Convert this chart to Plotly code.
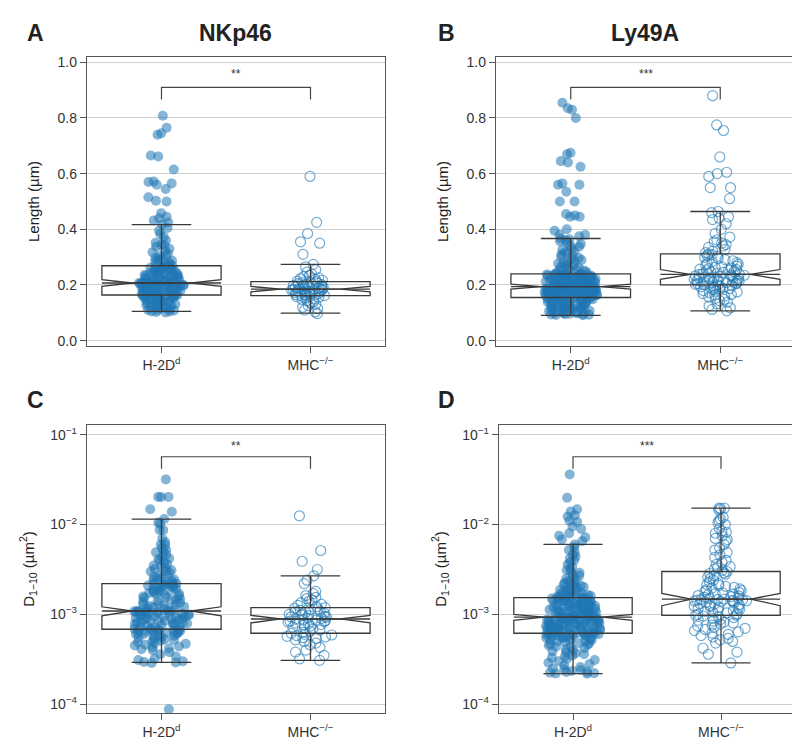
import math
import plotly.graph_objects as go

# ---------------- categories ----------------
CATS = ["H-2D<sup>d</sup>", "MHC<sup>−/−</sup>"]

# ---------------- Panel A : NKp46 length (µm) ----------------
A_H2D = [
    0.101, 0.103, 0.105, 0.105, 0.108, 0.110, 0.111, 0.114, 0.116, 0.117,
    0.119, 0.121, 0.122, 0.125, 0.127, 0.128, 0.130, 0.131, 0.134, 0.135,
    0.137, 0.138, 0.140, 0.142, 0.143, 0.145, 0.146, 0.148, 0.149, 0.151,
    0.152, 0.153, 0.155, 0.156, 0.157, 0.158, 0.159, 0.160, 0.161, 0.161,
    0.162, 0.163, 0.164, 0.164,
    0.165, 0.166, 0.168, 0.169, 0.170, 0.171, 0.173, 0.174, 0.175, 0.176,
    0.177, 0.178, 0.180, 0.181, 0.182, 0.183, 0.184, 0.185, 0.186, 0.187,
    0.188, 0.189, 0.190, 0.191, 0.192, 0.193, 0.194, 0.195, 0.196, 0.197,
    0.198, 0.199, 0.200, 0.200, 0.201, 0.202, 0.203, 0.204, 0.205, 0.205,
    0.206, 0.206, 0.207, 0.207,
    0.208, 0.209, 0.210, 0.212, 0.213, 0.214, 0.215, 0.217, 0.218, 0.219,
    0.221, 0.222, 0.223, 0.225, 0.226, 0.227, 0.229, 0.230, 0.231, 0.233,
    0.234, 0.236, 0.237, 0.239, 0.240, 0.242, 0.243, 0.245, 0.246, 0.248,
    0.249, 0.251, 0.252, 0.254, 0.256, 0.257, 0.259, 0.260, 0.262, 0.263,
    0.265, 0.266, 0.268, 0.269,
    0.272, 0.275, 0.278, 0.281, 0.285, 0.288, 0.291, 0.295, 0.299, 0.303,
    0.307, 0.312, 0.318, 0.324, 0.330, 0.337, 0.343, 0.345, 0.352, 0.360,
    0.372, 0.383, 0.395, 0.405, 0.417,
    0.425, 0.432, 0.440, 0.445, 0.458, 0.500, 0.503, 0.515, 0.545, 0.560,
    0.565, 0.570, 0.572, 0.615, 0.662, 0.665, 0.740, 0.745, 0.765, 0.808,
]
A_MHC = [
    0.097, 0.103, 0.110, 0.115, 0.120, 0.126, 0.131, 0.136, 0.140, 0.144,
    0.148, 0.151, 0.154, 0.156, 0.158, 0.160, 0.162,
    0.163, 0.165, 0.166, 0.168, 0.169, 0.171, 0.172, 0.173, 0.175, 0.176,
    0.177, 0.178, 0.180, 0.181, 0.182, 0.183, 0.184, 0.185,
    0.186, 0.187, 0.188, 0.190, 0.191, 0.192, 0.194, 0.195, 0.196, 0.198,
    0.200, 0.201, 0.203, 0.205, 0.206, 0.208, 0.210, 0.212,
    0.214, 0.217, 0.220, 0.223, 0.226, 0.230, 0.234, 0.240, 0.246, 0.255,
    0.265, 0.274, 0.310, 0.350, 0.355, 0.385, 0.425, 0.590,
]
A_Q1 = [0.164, 0.162]
A_MED = [0.207, 0.185]
A_Q3 = [0.269, 0.212]
A_LOW = [0.105, 0.099]
A_HIGH = [0.417, 0.274]
A_NOTCH = [0.012, 0.0095]

# ---------------- Panel B : Ly49A length (µm) ----------------
B_H2D = [
    0.091, 0.092, 0.093, 0.094, 0.095, 0.096, 0.097, 0.098, 0.099, 0.100,
    0.101, 0.102, 0.104, 0.105, 0.106, 0.107, 0.108, 0.109, 0.110, 0.111,
    0.113, 0.114, 0.115, 0.116, 0.117, 0.118, 0.120, 0.121, 0.122, 0.123,
    0.124, 0.125, 0.127, 0.128, 0.129, 0.130, 0.131, 0.132, 0.134, 0.135,
    0.136, 0.137, 0.138, 0.139, 0.140, 0.141, 0.142, 0.143, 0.144, 0.145,
    0.146, 0.147, 0.148, 0.149, 0.150, 0.151, 0.152, 0.153, 0.154, 0.155,
    0.156, 0.156, 0.157, 0.158, 0.158, 0.159, 0.160, 0.160, 0.161, 0.162,
    0.162, 0.163, 0.164, 0.164, 0.165, 0.166, 0.166, 0.167, 0.168, 0.168,
    0.169, 0.170, 0.170, 0.171, 0.172, 0.172, 0.173, 0.174, 0.174, 0.175,
    0.176, 0.176, 0.177, 0.178, 0.178, 0.179, 0.180, 0.180, 0.181, 0.182,
    0.182, 0.183, 0.184, 0.184, 0.185, 0.186, 0.186, 0.187, 0.188, 0.188,
    0.189, 0.190, 0.190, 0.191, 0.192, 0.192, 0.193, 0.193, 0.194, 0.194,
    0.195, 0.196, 0.197, 0.197, 0.198, 0.199, 0.200, 0.201, 0.201, 0.202,
    0.203, 0.204, 0.205, 0.205, 0.206, 0.207, 0.208, 0.209, 0.209, 0.210,
    0.211, 0.212, 0.213, 0.213, 0.214, 0.215, 0.216, 0.217, 0.217, 0.218,
    0.219, 0.220, 0.221, 0.221, 0.222, 0.223, 0.224, 0.225, 0.225, 0.226,
    0.227, 0.228, 0.229, 0.229, 0.230, 0.231, 0.232, 0.233, 0.233, 0.234,
    0.235, 0.236, 0.236, 0.237, 0.237, 0.238, 0.238, 0.239, 0.239, 0.240,
    0.242, 0.245, 0.247, 0.250, 0.252, 0.255, 0.257, 0.260, 0.263, 0.266,
    0.268, 0.271, 0.274, 0.277, 0.280, 0.283, 0.287, 0.290, 0.294, 0.298,
    0.302, 0.306, 0.310, 0.314, 0.318, 0.322, 0.327, 0.332, 0.337, 0.342,
    0.347, 0.352, 0.357, 0.361, 0.364, 0.367,
    0.375, 0.380, 0.380, 0.395, 0.400, 0.445, 0.445, 0.450, 0.455, 0.500,
    0.500, 0.535, 0.560, 0.560, 0.565, 0.625, 0.640, 0.645, 0.670, 0.675,
    0.800, 0.830, 0.835, 0.855,
]
B_MHC = [
    0.107, 0.112, 0.118, 0.125, 0.132, 0.138, 0.143, 0.148, 0.152, 0.156,
    0.160, 0.163, 0.166, 0.169, 0.172, 0.175, 0.178, 0.180, 0.183, 0.185,
    0.187, 0.189, 0.191, 0.193, 0.195, 0.197, 0.198, 0.200,
    0.201, 0.202, 0.204, 0.205, 0.206, 0.208, 0.209, 0.210, 0.212, 0.213,
    0.214, 0.216, 0.217, 0.218, 0.220, 0.221, 0.222, 0.224, 0.225, 0.226,
    0.228, 0.229, 0.230, 0.232, 0.233, 0.235, 0.236, 0.238,
    0.239, 0.241, 0.243, 0.245, 0.247, 0.249, 0.251, 0.253, 0.255, 0.257,
    0.259, 0.261, 0.263, 0.265, 0.268, 0.271, 0.274, 0.277, 0.280, 0.283,
    0.287, 0.291, 0.295, 0.299, 0.303, 0.306, 0.309, 0.312,
    0.316, 0.322, 0.328, 0.335, 0.340, 0.345, 0.350, 0.355, 0.362, 0.372,
    0.385, 0.400, 0.420, 0.435, 0.440, 0.445, 0.460, 0.464,
    0.510, 0.550, 0.550, 0.590, 0.600, 0.605, 0.660, 0.755, 0.775, 0.880,
]
B_Q1 = [0.155, 0.200]
B_MED = [0.194, 0.238]
B_Q3 = [0.240, 0.312]
B_LOW = [0.091, 0.107]
B_HIGH = [0.367, 0.464]
B_NOTCH = [0.0085, 0.0175]

# ---------------- Panel C : NKp46 D1-10 (values in 1e-3 µm²) ----------------
C_H2D_E3 = [
    0.0877,
    0.288, 0.292, 0.295, 0.30, 0.31, 0.32, 0.34, 0.36, 0.38, 0.40,
    0.41, 0.42, 0.43, 0.44, 0.45, 0.46, 0.47, 0.48, 0.49, 0.50,
    0.51, 0.52, 0.53, 0.54, 0.55, 0.56, 0.57, 0.58, 0.59, 0.60,
    0.605, 0.61, 0.62, 0.625, 0.63, 0.64, 0.645, 0.65, 0.655, 0.66,
    0.665, 0.67, 0.675, 0.68,
    0.69, 0.70, 0.71, 0.72, 0.73, 0.74, 0.75, 0.76, 0.77, 0.78,
    0.79, 0.80, 0.81, 0.82, 0.83, 0.84, 0.85, 0.86, 0.87, 0.88,
    0.89, 0.90, 0.91, 0.92, 0.93, 0.94, 0.95, 0.96, 0.97, 0.98,
    0.99, 1.00, 1.01, 1.02, 1.03, 1.04, 1.05, 1.06, 1.07, 1.08,
    1.08, 1.085, 1.09, 1.09,
    1.10, 1.12, 1.14, 1.16, 1.18, 1.20, 1.22, 1.24, 1.26, 1.28,
    1.30, 1.32, 1.35, 1.38, 1.40, 1.43, 1.46, 1.49, 1.52, 1.55,
    1.58, 1.61, 1.64, 1.67, 1.70, 1.73, 1.76, 1.79, 1.82, 1.85,
    1.88, 1.91, 1.94, 1.97, 2.00, 2.03, 2.06, 2.09, 2.12, 2.14,
    2.16, 2.18, 2.19, 2.20,
    2.25, 2.3, 2.35, 2.4, 2.45, 2.5, 2.55, 2.6, 2.7, 2.8,
    2.9, 3.0, 3.05, 3.1, 3.2, 3.3, 3.4, 3.5, 3.6, 3.8,
    4.0, 4.1, 4.2, 4.4, 4.6, 4.9, 5.0, 5.2, 5.5, 5.9,
    6.0, 6.4, 7.0, 8.7, 8.7, 10.2, 10.5, 11.5,
    13.9, 14.8, 20.3, 20.3, 20.3, 31.8,
]
C_MHC_E3 = [
    0.308, 0.32, 0.35, 0.38, 0.40, 0.43, 0.46, 0.48, 0.50, 0.52,
    0.54, 0.55, 0.56, 0.57, 0.58, 0.59, 0.60, 0.615,
    0.63, 0.65, 0.67, 0.69, 0.71, 0.72, 0.74, 0.76, 0.77, 0.79,
    0.80, 0.82, 0.83, 0.84, 0.85, 0.86, 0.87, 0.885,
    0.90, 0.91, 0.93, 0.94, 0.95, 0.97, 0.98, 1.00, 1.01, 1.03,
    1.05, 1.07, 1.09, 1.11, 1.13, 1.15, 1.17, 1.19,
    1.22, 1.26, 1.30, 1.35, 1.40, 1.45, 1.50, 1.55, 1.62, 1.70,
    1.80, 2.20, 2.40, 2.68, 3.16, 3.9, 5.14, 12.5,
]
C_Q1_E3 = [0.683, 0.617]
C_MED_E3 = [1.09, 0.889]
C_Q3_E3 = [2.20, 1.19]
C_LOW_E3 = [0.292, 0.308]
C_HIGH_E3 = [11.5, 2.68]
C_NOTCH_E3 = [0.125, 0.085]

# ---------------- Panel D : Ly49A D1-10 (values in 1e-3 µm²) ----------------
D_H2D_E3 = [
    0.219, 0.22, 0.222, 0.225, 0.228, 0.23, 0.235, 0.24, 0.245, 0.25,
    0.26, 0.27, 0.28, 0.29, 0.30, 0.31, 0.32, 0.33, 0.34, 0.35,
    0.36, 0.37, 0.38, 0.39, 0.40, 0.41, 0.42, 0.43, 0.44, 0.45,
    0.46, 0.47, 0.475, 0.48, 0.49, 0.50, 0.505, 0.51, 0.52, 0.525,
    0.53, 0.54, 0.545, 0.55, 0.555, 0.56, 0.565, 0.57, 0.575, 0.58,
    0.585, 0.59, 0.595, 0.60, 0.60, 0.605, 0.61, 0.61, 0.615, 0.617,
    0.62, 0.625, 0.63, 0.635, 0.64, 0.645, 0.65, 0.655, 0.66, 0.665,
    0.67, 0.675, 0.68, 0.685, 0.69, 0.695, 0.70, 0.705, 0.71, 0.715,
    0.72, 0.725, 0.73, 0.735, 0.74, 0.745, 0.75, 0.755, 0.76, 0.765,
    0.77, 0.775, 0.78, 0.785, 0.79, 0.80, 0.805, 0.81, 0.815, 0.82,
    0.83, 0.835, 0.84, 0.845, 0.85, 0.86, 0.865, 0.87, 0.875, 0.88,
    0.885, 0.89, 0.895, 0.90, 0.905, 0.91, 0.915, 0.92, 0.925, 0.93,
    0.935, 0.94, 0.95, 0.955, 0.96, 0.97, 0.975, 0.98, 0.99, 1.00,
    1.01, 1.02, 1.03, 1.04, 1.05, 1.06, 1.07, 1.08, 1.09, 1.10,
    1.11, 1.12, 1.13, 1.14, 1.15, 1.16, 1.17, 1.18, 1.19, 1.20,
    1.21, 1.22, 1.23, 1.24, 1.25, 1.26, 1.28, 1.29, 1.30, 1.31,
    1.32, 1.34, 1.35, 1.36, 1.38, 1.39, 1.40, 1.41, 1.42, 1.44,
    1.45, 1.46, 1.47, 1.48, 1.49, 1.50, 1.51, 1.52, 1.53, 1.54,
    1.56, 1.58, 1.60, 1.62, 1.64, 1.66, 1.68, 1.70, 1.73, 1.76,
    1.79, 1.82, 1.85, 1.88, 1.91, 1.94, 1.98, 2.02, 2.06, 2.10,
    2.15, 2.2, 2.25, 2.3, 2.35, 2.4, 2.5, 2.6, 2.7, 2.8,
    2.9, 3.0, 3.1, 3.2, 3.4, 3.6, 3.8, 4.0, 4.2, 4.4,
    4.6, 4.9, 5.2, 5.6, 6.0,
    6.5, 6.8, 7.2, 7.5, 8.0, 8.9, 9.5, 10.7, 11.0, 12.3,
    12.7, 14.0, 14.8, 19.9, 36.1,
]
D_MHC_E3 = [
    0.288, 0.36, 0.38, 0.42, 0.48, 0.50, 0.52, 0.54, 0.56, 0.58,
    0.60, 0.62, 0.64, 0.66, 0.68, 0.70, 0.72, 0.74, 0.76, 0.78,
    0.80, 0.82, 0.84, 0.86, 0.88, 0.90, 0.92, 0.94, 0.96, 0.975,
    0.98, 1.00, 1.02, 1.04, 1.06, 1.08, 1.10, 1.12, 1.14, 1.16,
    1.18, 1.20, 1.22, 1.24, 1.26, 1.28, 1.30, 1.32, 1.34, 1.36,
    1.38, 1.40, 1.41, 1.42, 1.43, 1.44, 1.45, 1.46, 1.47, 1.48,
    1.50, 1.52, 1.55, 1.58, 1.60, 1.62, 1.65, 1.68, 1.70, 1.73,
    1.76, 1.80, 1.84, 1.88, 1.92, 1.96, 2.0, 2.05, 2.1, 2.15,
    2.2, 2.3, 2.4, 2.5, 2.6, 2.7, 2.8, 2.85, 2.9, 3.0,
    3.1, 3.2, 3.3, 3.4, 3.6, 3.8, 4.0, 4.3, 4.6, 4.9,
    5.2, 5.5, 6.0, 6.5, 6.8, 7.0, 7.5, 8.0, 8.2, 8.5,
    9.0, 10.0, 10.5, 11.0, 11.5, 12.0, 14.5, 15.0, 15.2, 15.2,
]
D_Q1_E3 = [0.617, 0.975]
D_MED_E3 = [0.93, 1.48]
D_Q3_E3 = [1.54, 3.0]
D_LOW_E3 = [0.219, 0.288]
D_HIGH_E3 = [6.0, 15.2]
D_NOTCH_E3 = [0.07, 0.23]

# ---------------- significance brackets ----------------
LIN_BRACKET = [0.866, 0.910]
LIN_STAR_Y = 0.957
LOG_BRACKET = [0.0418, 0.0568]
LOG_STAR_Y = 0.075
STARS = ["**", "***", "**", "***"]
TITLES = ["NKp46", "Ly49A"]
LETTERS = ["A", "B", "C", "D"]


def e3(vals):
    return [v * 1e-3 for v in vals]


FONT = "Liberation Sans, Arial, Helvetica, sans-serif"
FILL_PT = "rgba(31,119,180,0.55)"
OPEN_PT = "rgba(31,119,180,0.62)"
BOX_LINE = "#3a3a3a"

panels = [
    dict(h2d=A_H2D, mhc=A_MHC, q1=A_Q1, med=A_MED, q3=A_Q3, lo=A_LOW, hi=A_HIGH, notch=A_NOTCH,
         log=False, jit=(0.38, 0.34), ojit=(0.3, 0.24)),
    dict(h2d=B_H2D, mhc=B_MHC, q1=B_Q1, med=B_MED, q3=B_Q3, lo=B_LOW, hi=B_HIGH, notch=B_NOTCH,
         log=False, jit=(0.44, 0.46), ojit=(0.32, 0.3)),
    dict(h2d=e3(C_H2D_E3), mhc=e3(C_MHC_E3), q1=e3(C_Q1_E3), med=e3(C_MED_E3), q3=e3(C_Q3_E3),
         lo=e3(C_LOW_E3), hi=e3(C_HIGH_E3), notch=e3(C_NOTCH_E3), log=True, jit=(0.46, 0.42),
         ojit=(0.26, 0.22)),
    dict(h2d=e3(D_H2D_E3), mhc=e3(D_MHC_E3), q1=e3(D_Q1_E3), med=e3(D_MED_E3), q3=e3(D_Q3_E3),
         lo=e3(D_LOW_E3), hi=e3(D_HIGH_E3), notch=e3(D_NOTCH_E3), log=True, jit=(0.46, 0.46),
         ojit=(0.3, 0.22)),
]

# plot-area pixel boxes (left, right, top, bottom) in an 800x750 page
W, H = 800, 750
boxes = [(79, 377, 47, 338), (488, 787, 47, 338), (79, 377, 417, 707), (491, 787, 417, 707)]

fig = go.Figure()
annotations = []


def add_points(vals, cat, jit, marker, xa, ya):
    if not vals:
        return
    fig.add_trace(go.Box(
        x=[cat] * len(vals), y=vals, xaxis=xa, yaxis=ya,
        boxpoints="all", jitter=jit, pointpos=0, width=0.8, marker=marker,
        line=dict(width=0, color="rgba(0,0,0,0)"), fillcolor="rgba(0,0,0,0)",
        hoveron="points", showlegend=False))


for i, p in enumerate(panels):
    xa = "x" if i == 0 else f"x{i+1}"
    ya = "y" if i == 0 else f"y{i+1}"
    markers = [dict(color=FILL_PT, size=10, line=dict(width=0)),
               dict(symbol="circle-open", color=OPEN_PT, size=10, line=dict(width=1.2, color=OPEN_PT))]
    for g, key in enumerate(["h2d", "mhc"]):
        lo, hi = p["lo"][g], p["hi"][g]
        core = [v for v in p[key] if lo <= v <= hi]
        out = [v for v in p[key] if v < lo or v > hi]
        add_points(core, CATS[g], p["jit"][g], markers[g], xa, ya)
        add_points(out, CATS[g], p["ojit"][g], markers[g], xa, ya)
    # notched box outlines from the summary statistics
    fig.add_trace(go.Box(
        x=CATS, q1=p["q1"], median=p["med"], q3=p["q3"],
        lowerfence=p["lo"], upperfence=p["hi"], notchspan=p["notch"],
        notched=True, notchwidth=0.25, whiskerwidth=0.5, width=0.8,
        boxpoints=False, xaxis=xa, yaxis=ya,
        line=dict(color=BOX_LINE, width=1.3), fillcolor="rgba(0,0,0,0)",
        showlegend=False))
    # full-width median line
    fig.add_trace(go.Box(
        x=CATS, q1=p["med"], median=p["med"], q3=p["med"],
        lowerfence=p["med"], upperfence=p["med"], width=0.8, whiskerwidth=0,
        boxpoints=False, xaxis=xa, yaxis=ya,
        line=dict(color=BOX_LINE, width=1.3), fillcolor="rgba(0,0,0,0)",
        showlegend=False))
    # significance bracket
    br = LOG_BRACKET if p["log"] else LIN_BRACKET
    fig.add_trace(go.Scatter(
        x=[CATS[0], CATS[0], CATS[1], CATS[1]], y=[br[0], br[1], br[1], br[0]],
        mode="lines", line=dict(color="#444444", width=1.2),
        xaxis=xa, yaxis=ya, showlegend=False, hoverinfo="skip"))
    sy = math.log10(LOG_STAR_Y) if p["log"] else LIN_STAR_Y
    annotations.append(dict(x=0.5, y=sy, xref=xa, yref=ya, text=STARS[i], showarrow=False,
                            font=dict(size=12, color="#333333", family=FONT), yanchor="middle"))

    l, r, t, b = boxes[i]
    xdom = [l / W, r / W]
    ydom = [1 - b / H, 1 - t / H]
    axis_common = dict(showline=True, mirror=True, linecolor="#555555", linewidth=1.3,
                       ticks="outside", ticklen=6, tickcolor="#555555", tickwidth=1.2,
                       tickfont=dict(family=FONT, size=14, color="#333333"), zeroline=False)
    xkey = "xaxis" if i == 0 else f"xaxis{i+1}"
    ykey = "yaxis" if i == 0 else f"yaxis{i+1}"
    fig.layout[xkey] = dict(domain=xdom, anchor=ya, type="category", range=[-0.5, 1.5],
                            showgrid=False, categoryorder="array", categoryarray=CATS,
                            **axis_common)
    if p["log"]:
        fig.layout[ykey] = dict(domain=ydom, anchor=xa, type="log", range=[-4.1, -0.89],
                                tickvals=[1e-4, 1e-3, 1e-2, 1e-1],
                                ticktext=["10<sup>−4</sup>", "10<sup>−3</sup>", "10<sup>−2</sup>", "10<sup>−1</sup>"],
                                showgrid=True, gridcolor="#cfcfcf", gridwidth=1,
                                title=dict(text="D<sub>1−10</sub> (µm<sup>2</sup>)",
                                           font=dict(family=FONT, size=15, color="#222222"), standoff=12),
                                **axis_common)
    else:
        fig.layout[ykey] = dict(domain=ydom, anchor=xa, range=[-0.02, 1.02],
                                tickvals=[0.0, 0.2, 0.4, 0.6, 0.8, 1.0],
                                ticktext=["0.0", "0.2", "0.4", "0.6", "0.8", "1.0"],
                                showgrid=True, gridcolor="#cfcfcf", gridwidth=1,
                                title=dict(text="Length (µm)",
                                           font=dict(family=FONT, size=15, color="#222222"), standoff=14),
                                **axis_common)

# panel letters and titles
letter_pos = [(27, 23), (439, 23), (27, 392), (438, 392)]
for (lx, ly), lt in zip(letter_pos, LETTERS):
    annotations.append(dict(x=lx / W, y=1 - ly / H, xref="paper", yref="paper", text=f"<b>{lt}</b>",
                            showarrow=False, xanchor="center", yanchor="middle",
                            font=dict(family=FONT, size=23, color="#222222")))
title_pos = [(228, 23), (637, 23)]
for (tx, ty), tt in zip(title_pos, TITLES):
    annotations.append(dict(x=tx / W, y=1 - ty / H, xref="paper", yref="paper", text=f"<b>{tt}</b>",
                            showarrow=False, xanchor="center", yanchor="middle",
                            font=dict(family=FONT, size=23, color="#222222")))

fig.update_layout(
    width=W, height=H, margin=dict(l=0, r=0, t=0, b=0),
    paper_bgcolor="white", plot_bgcolor="white",
    boxmode="overlay", showlegend=False, annotations=annotations,
    font=dict(family=FONT, color="#333333"),
)

fig.write_html("out.html")
